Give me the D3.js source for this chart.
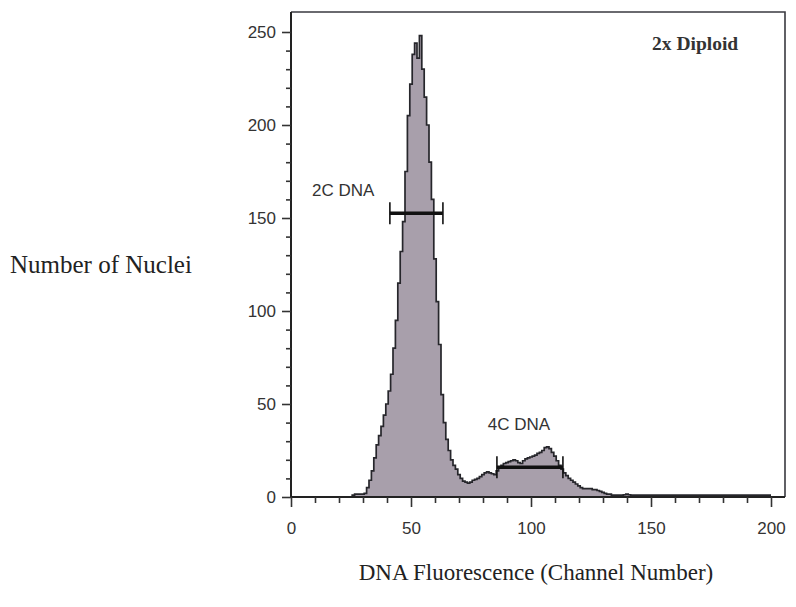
<!DOCTYPE html>
<html>
<head>
<meta charset="utf-8">
<script src="https://cdn.jsdelivr.net/npm/d3@7"></script>
<style>
  html, body { margin: 0; padding: 0; background: #fff; }
  svg { display: block; }
</style>
</head>
<body>
<svg id="chart" width="796" height="607"></svg>
<script>
// ---- Data ----
const channelStart = 0;
// counts per channel, channel 0 .. 200
const counts = [
  0,0,0,0,0,0,0,0,0,0,            // 0-9
  0,0,0,0,0,0,0,0,0,0,            // 10-19
  0,0,0,0,0,0,1,1.5,1.5,1.5,      // 20-29
  1.5,2,5,9,14,21,28,33,38,44,    // 30-39
  50,57,66,80,95,115,132,148,175,205, // 40-49
  222,238,244,236,248,230,215,200,180,160, // 50-59
  128,105,82,55,40,31,25,20,17,15,  // 60-69
  12,10,8.5,8,7.5,8,9,9.5,10,11,    // 70-79
  12,13,13.5,13,12.5,12,14,16,17,18, // 80-89
  18.5,19,19.5,20,19.5,18.5,18,19.5,20.5,21, // 90-99
  21.5,22,22.5,23.5,24,25,26.5,27,26,24,   // 100-109
  22,19.5,17,15,13,11.5,10,9,8,7,          // 110-119
  6,5,4.5,4.5,4.5,4.5,4,4,3.5,3,           // 120-129
  2.5,2,1.5,1.5,1,1,1,1,1,1.2,             // 130-139
  1.5,1.2,1,1,1,1,1,1,1,1,                 // 140-149
  1,1,1,1,1,1,1,1,1,1,                     // 150-159
  1,1,1,1,1,1,1,1,1,1,                     // 160-169
  1,1,1,1,1,1,1,1,1,1,                     // 170-179
  1,1,1,1,1,1,1,1,1,1,                     // 180-189
  1,1,1,1,1,1,1,1,1,1,                     // 190-199
  1                                        // 200
];
const xTicks = [0, 50, 100, 150, 200];
const yTicks = [0, 50, 100, 150, 200, 250];
const gates = [
  { label: "2C DNA", from: 41.2, to: 63.3, level: 152.5, labelX: 8.8, labelY: 162 },
  { label: "4C DNA", from: 85.8, to: 113.3, level: 16, labelX: 82, labelY: 36 }
];
const cornerLabel = "2x Diploid";
const xTitle = "DNA Fluorescence (Channel Number)";
const yTitle = "Number of Nuclei";

// ---- Layout ----
const svg = d3.select("#chart");
const plotLeft = 291, plotRight = 771, frameRight = 785, plotTop = 12, plotBottom = 497;
const x = d3.scaleLinear().domain([0, 200]).range([plotLeft, plotRight]);
const y = d3.scaleLinear().domain([0, 250]).range([plotBottom, 32]);

const pts = counts.map((v, i) => [channelStart + i, v]);

// area
const area = d3.area()
  .x(d => x(d[0]))
  .y0(y(0))
  .y1(d => y(d[1]))
  .curve(d3.curveStep);
svg.append("path")
  .datum(pts)
  .attr("d", area)
  .attr("fill", "#a89fab");

const line = d3.line()
  .x(d => x(d[0]))
  .y(d => y(d[1]))
  .curve(d3.curveStep);
svg.append("path")
  .datum(pts)
  .attr("d", line)
  .attr("fill", "none")
  .attr("stroke", "#26262b")
  .attr("stroke-width", 1.7);

// frame (top and right)
svg.append("path")
  .attr("d", `M${plotLeft},${plotTop}H${frameRight}V${plotBottom}`)
  .attr("fill", "none")
  .attr("stroke", "#3a3a40")
  .attr("stroke-width", 1.6);

// axes
const tickFont = "'Liberation Sans', Arial, sans-serif";
const xMinor = d3.range(0, 201, 10).filter(v => v % 50 !== 0);
const yMinor = d3.range(0, 251, 10).filter(v => v % 50 !== 0);

const gx = svg.append("g").attr("transform", `translate(0,${plotBottom})`)
  .call(d3.axisBottom(x).tickValues(xTicks).tickFormat(d3.format("d")).tickSize(10).tickPadding(15));
const gxm = svg.append("g").attr("transform", `translate(0,${plotBottom})`)
  .call(d3.axisBottom(x).tickValues(xMinor).tickFormat("").tickSize(6));
const gy = svg.append("g").attr("transform", `translate(${plotLeft},0)`)
  .call(d3.axisLeft(y).tickValues(yTicks).tickFormat(d3.format("d")).tickSize(9).tickPadding(6));
const gym = svg.append("g").attr("transform", `translate(${plotLeft},0)`)
  .call(d3.axisLeft(y).tickValues(yMinor).tickFormat("").tickSize(5));

[gx, gxm, gy, gym].forEach(g => {
  g.select(".domain").attr("stroke", "#222").attr("stroke-width", 2);
  g.selectAll(".tick line").attr("stroke", "#333").attr("stroke-width", 1.6);
  g.selectAll(".tick text")
    .attr("font-family", tickFont)
    .attr("font-size", 17)
    .attr("fill", "#333");
});
gy.select(".domain").attr("d", `M0,${plotTop}V${plotBottom}`);
gym.select(".domain").remove();
gxm.select(".domain").remove();
gx.select(".domain").attr("d", `M${plotLeft},0H${frameRight}`);

// gates
gates.forEach(g => {
  const grp = svg.append("g").attr("stroke", "#111");
  grp.append("line")
    .attr("x1", x(g.from)).attr("x2", x(g.to))
    .attr("y1", y(g.level)).attr("y2", y(g.level))
    .attr("stroke-width", 3.5);
  [g.from, g.to].forEach(v => {
    grp.append("line")
      .attr("x1", x(v)).attr("x2", x(v))
      .attr("y1", y(g.level) - 11).attr("y2", y(g.level) + 11)
      .attr("stroke-width", 1.6);
  });
  svg.append("text")
    .attr("x", x(g.labelX)).attr("y", y(g.labelY))
    .attr("font-family", tickFont)
    .attr("font-size", 17)
    .attr("fill", "#333")
    .text(g.label);
});

// corner label
svg.append("text")
  .attr("x", 652).attr("y", 50)
  .attr("font-family", "'Liberation Serif', 'Times New Roman', serif")
  .attr("font-size", 19.5)
  .attr("font-weight", "bold")
  .attr("fill", "#333")
  .text(cornerLabel);

// axis titles
svg.append("text")
  .attr("x", 536).attr("y", 580)
  .attr("text-anchor", "middle")
  .attr("font-family", "'Liberation Serif', 'Times New Roman', serif")
  .attr("font-size", 23)
  .attr("fill", "#222")
  .text(xTitle);
svg.append("text")
  .attr("x", 10).attr("y", 273)
  .attr("font-family", "'Liberation Serif', 'Times New Roman', serif")
  .attr("font-size", 25)
  .attr("fill", "#222")
  .text(yTitle);
</script>
</body>
</html>
